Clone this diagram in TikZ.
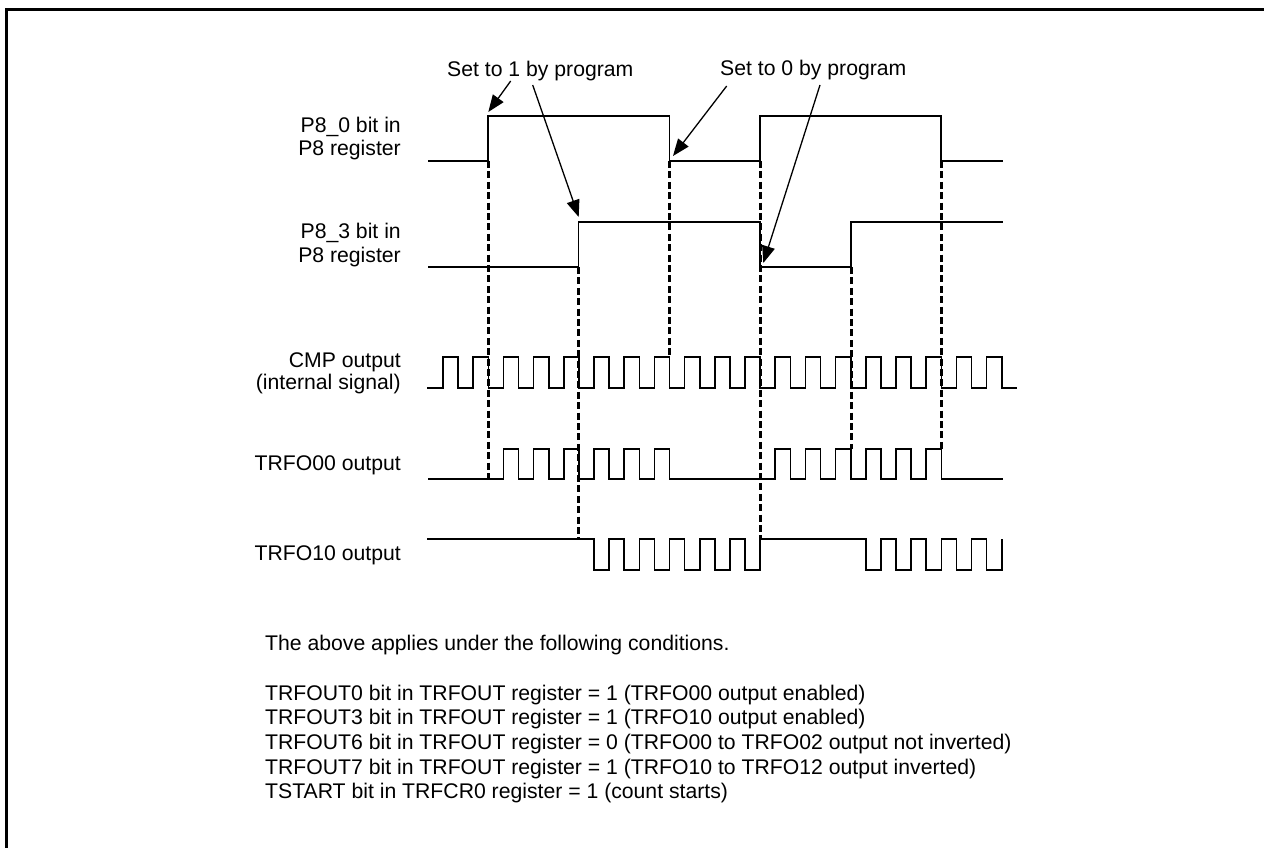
\documentclass[tikz,border=0pt]{standalone}
\usepackage{fontspec}
\setmainfont{Liberation Sans}
\usetikzlibrary{arrows.meta}
\tikzset{x=1pt,y=-1pt,
 wave/.style={line width=1.6pt,line join=miter},
 guide/.style={line width=3pt,dash pattern=on 7pt off 3.4pt},
 callout/.style={line width=1.3pt,-{Triangle[length=17pt,width=13pt]}},
 lbl/.style={font=\fontsize{21.2}{23}\selectfont,inner sep=0pt},
 sig/.style={lbl,anchor=base east},
 cond/.style={lbl,anchor=base west}}
\begin{document}
\begin{tikzpicture}
\useasboundingbox (0,0) rectangle (1264,848);
\draw[line width=3pt] (6.5,848) -- (6.5,9.5) -- (1264,9.5);
% guides
\coordinate (g1t) at (488,161); \coordinate (g1b) at (488,479);
\coordinate (g2t) at (578.5,267); \coordinate (g2b) at (578.5,539);
\coordinate (g3t) at (669.5,161); \coordinate (g3b) at (669.5,357);
\coordinate (g4t) at (760,161); \coordinate (g4b) at (760,539);
\coordinate (g5t) at (851,267); \coordinate (g5b) at (851,449);
\coordinate (g6t) at (941,161); \coordinate (g6b) at (941,449);
\foreach \a in {1,...,6} \draw[guide] (g\a t) -- (g\a b);
% P8_0
\draw[wave] (428,161) -| (488,116) -| (669.5,161) -| (760,116) -| (941,161) -- (1002.5,161);
% P8_3
\draw[wave] (428,267) -| (578.5,222) -| (760,267) -| (851,222) -- (1002.5,222);
% CMP
\draw[wave] (427,388) \foreach \i in {0,...,18} { -- ({443+\i*30.2},388) -- ({443+\i*30.2},357) -- ({458.1+\i*30.2},357) -- ({458.1+\i*30.2},388) } -- (1017,388);
% TRFO00
\draw[wave] (428,479) \foreach \i in {0,...,5} { -- ({503.4+\i*30.2},479) -- ({503.4+\i*30.2},449) -- ({518.5+\i*30.2},449) -- ({518.5+\i*30.2},479) }
 \foreach \i in {0,...,5} { -- ({775.2+\i*30.2},479) -- ({775.2+\i*30.2},449) -- ({790.3+\i*30.2},449) -- ({790.3+\i*30.2},479) } -- (1002.5,479);
% TRFO10
\draw[wave] (427,539) \foreach \i in {0,...,5} { -- ({594+\i*30.2},539) -- ({594+\i*30.2},570) -- ({609.1+\i*30.2},570) -- ({609.1+\i*30.2},539) }
 \foreach \i in {0,...,4} { -- ({865.8+\i*30.2},539) -- ({865.8+\i*30.2},570) -- ({880.9+\i*30.2},570) -- ({880.9+\i*30.2},539) };
% labels
\node[lbl,anchor=base west] (s1) at (447,77) {Set to 1 by program};
\node[lbl,anchor=base west] (s0) at (720,76) {Set to 0 by program};
\coordinate (a1) at (510.7,81); \coordinate (a1e) at (488.3,112);
\coordinate (a2) at (532.7,85); \coordinate (a2e) at (578.7,217);
\coordinate (a3) at (726.7,86); \coordinate (a3e) at (673,156);
\coordinate (a4) at (820,85); \coordinate (a4e) at (763.3,263);
\draw[callout] (a1) -- (a1e);
\draw[callout] (a2) -- (a2e);
\draw[callout] (a3) -- (a3e);
\draw[callout] (a4) -- (a4e);
\node[sig] (l1a) at (401,133) {P8\_0 bit in};
\node[sig] (l1b) at (401,156) {P8 register};
\node[sig] (l2a) at (401,238) {P8\_3 bit in};
\node[sig] (l2b) at (401,262) {P8 register};
\node[sig] (l3a) at (401,367) {CMP output};
\node[sig] (l3b) at (401,389) {(internal signal)};
\node[sig] (l4) at (401,470) {TRFO00 output};
\node[sig] (l5) at (401,560) {TRFO10 output};
\node[cond] (c0) at (265,650) {The above applies under the following conditions.};
\node[cond] (c1) at (265,700) {TRFOUT0 bit in TRFOUT register = 1 (TRFO00 output enabled)};
\node[cond] (c2) at (265,724) {TRFOUT3 bit in TRFOUT register = 1 (TRFO10 output enabled)};
\node[cond] (c3) at (265,749) {TRFOUT6 bit in TRFOUT register = 0 (TRFO00 to TRFO02 output not inverted)};
\node[cond] (c4) at (265,774) {TRFOUT7 bit in TRFOUT register = 1 (TRFO10 to TRFO12 output inverted)};
\node[cond] (c5) at (265,798) {TSTART bit in TRFCR0 register = 1 (count starts)};
\end{tikzpicture}
\end{document}
